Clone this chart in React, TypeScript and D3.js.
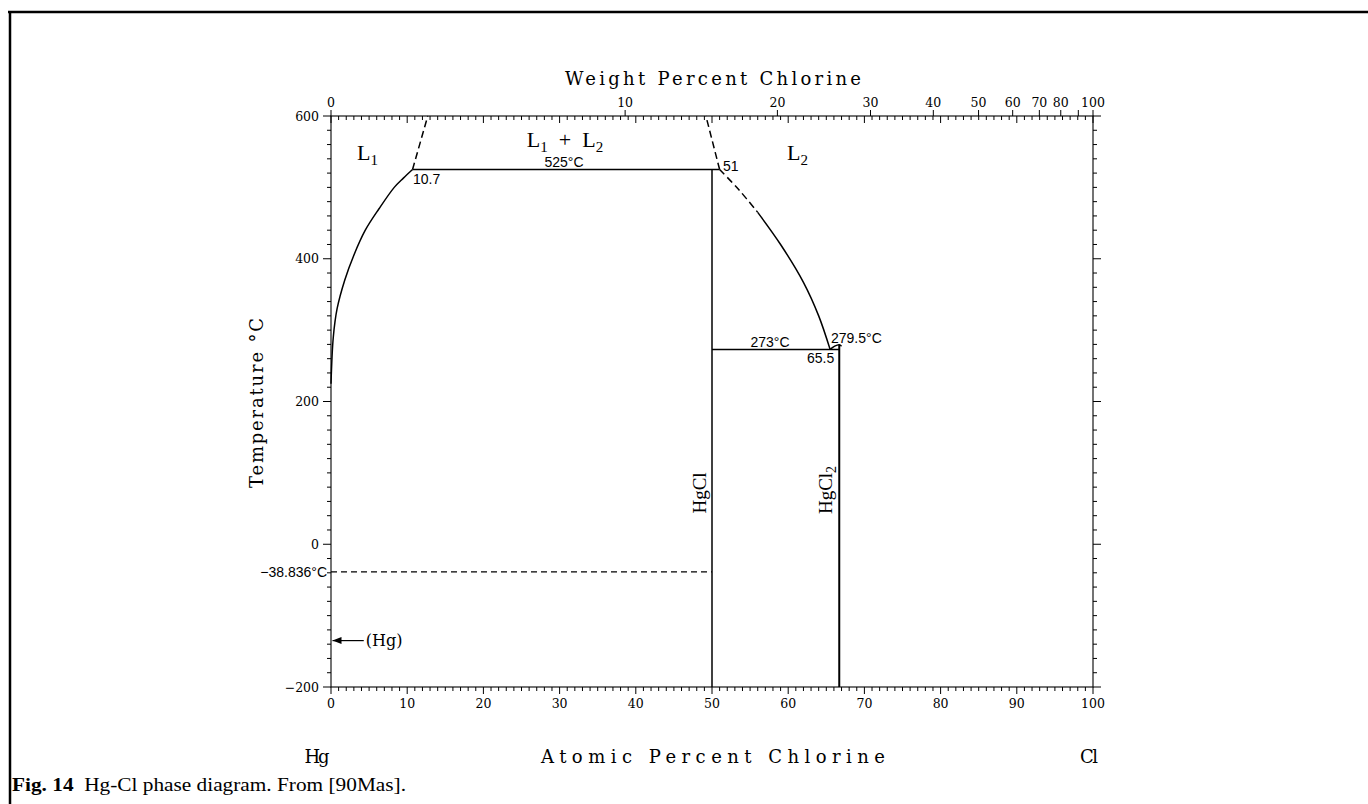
import React from 'react';
import * as d3 from 'd3';

// ---- data ----
const atMajorTicks: number[] = [0, 10, 20, 30, 40, 50, 60, 70, 80, 90, 100];
const atMinorTicks: number[] = d3.range(0, 101, 1);
const tempMajorTicks: number[] = [-200, 0, 200, 400, 600];
const tempMinorTicks: number[] = d3.range(-200, 601, 20);
const wtTicks: number[] = [0, 10, 20, 30, 40, 50, 60, 70, 80, 90, 100];
const wtTickLabels: string[] = ['0', '10', '20', '30', '40', '50', '60', '70', '80', '', '100'];

// phase boundaries [at% Cl, T °C]
const liquidusL1: [number, number][] = [
  [0, 225], [0.3, 290], [0.8, 330], [1.8, 370], [3, 405], [4.5, 440], [6.3, 470], [8.3, 500], [9.5, 513], [10.7, 525],
];
const domeLeftDashed: [number, number][] = [[10.7, 525], [12.7, 600]];
const domeRightDashed: [number, number][] = [[51, 525], [49.2, 600]];
const liquidusL2Dashed: [number, number][] = [[51, 525], [53.5, 497], [56, 465]];
const liquidusL2: [number, number][] = [[56, 465], [59, 420], [62, 367], [64, 320], [65.5, 273]];
const hgcl2Peak: [number, number][] = [[65.5, 273], [66.1, 277.5], [66.7, 279.5], [67.0, 277.5]];
const monotectic: [number, number][] = [[10.7, 525], [51, 525]];
const eutectic: [number, number][] = [[50, 273], [66.7, 273]];
const hgclLine: [number, number][] = [[50, 525], [50, -200]];
const hgcl2Line: [number, number][] = [[66.7, 279.5], [66.7, -200]];
const hgMeltLine: [number, number][] = [[0, -38.836], [50, -38.836]];
const hgArrow: [number, number][] = [[0.2, -135], [4.3, -135]];

const W = 1368;
const H = 804;

const wtToAt = (w: number): number => {
  if (w <= 0) return 0;
  if (w >= 100) return 100;
  const nCl = w / 35.453;
  const nHg = (100 - w) / 200.59;
  return (nCl / (nCl + nHg)) * 100;
};

export default function App() {
  const x = d3.scaleLinear().domain([0, 100]).range([331, 1093]);
  const y = d3.scaleLinear().domain([-200, 600]).range([687, 116]);
  const line = d3.line<[number, number]>().x((d) => x(d[0])).y((d) => y(d[1]));
  const curve = d3.line<[number, number]>().x((d) => x(d[0])).y((d) => y(d[1])).curve(d3.curveCatmullRom);

  const serif = '"DejaVu Serif", serif';
  const times = '"Liberation Serif", serif';
  const sans = '"Liberation Sans", Arial, sans-serif';
  const x0 = x(0), x1 = x(100), yT = y(600), yB = y(-200);

  return (
    <svg width={W} height={H} style={{ position: 'absolute', left: 0, top: 0, background: '#fff' }}>
      <rect x={0} y={0} width={W} height={H} fill="#fff" />
      {/* page frame */}
      <line x1={8} y1={12} x2={W} y2={12} stroke="#000" strokeWidth={2.5} />
      <line x1={10} y1={11} x2={10} y2={H} stroke="#000" strokeWidth={2.5} />

      {/* plot box */}
      <rect x={x0} y={yT} width={x1 - x0} height={yB - yT} fill="none" stroke="#000" strokeWidth={1.1} />

      {/* bottom axis ticks */}
      {atMinorTicks.map((t) => (
        <line key={'bm' + t} x1={x(t)} x2={x(t)} y1={yB} y2={yB + (t % 10 === 0 ? 7 : 4)} stroke="#000" strokeWidth={1} />
      ))}
      {atMajorTicks.map((t) => (
        <text key={'bl' + t} x={x(t)} y={708} textAnchor="middle" fontFamily={serif} fontSize={12.5}>{t}</text>
      ))}
      {/* top axis: atomic ticks inward */}
      {atMinorTicks.map((t) => (
        <line key={'tm' + t} x1={x(t)} x2={x(t)} y1={yT} y2={yT + (t % 10 === 0 ? 7 : 4)} stroke="#000" strokeWidth={1} />
      ))}
      {/* top axis: weight ticks outward */}
      {wtTicks.map((w, i) => (
        <g key={'wt' + w}>
          <line x1={x(wtToAt(w))} x2={x(wtToAt(w))} y1={yT} y2={yT - 6} stroke="#000" strokeWidth={1} />
          <text x={x(wtToAt(w))} y={107} textAnchor="middle" fontFamily={serif} fontSize={12.5}>{wtTickLabels[i]}</text>
        </g>
      ))}
      {/* left / right temperature ticks outward */}
      {tempMinorTicks.map((t) => (
        <g key={'tt' + t}>
          <line x1={x0} x2={x0 - (t % 200 === 0 ? 8 : 4)} y1={y(t)} y2={y(t)} stroke="#000" strokeWidth={1} />
          <line x1={x1} x2={x1 + (t % 200 === 0 ? 8 : 4)} y1={y(t)} y2={y(t)} stroke="#000" strokeWidth={1} />
        </g>
      ))}
      {tempMajorTicks.map((t) => (
        <text key={'yl' + t} x={319} y={y(t) + 4.5} textAnchor="end" fontFamily={serif} fontSize={12.5}>{t === -200 ? '\u2212200' : t}</text>
      ))}

      {/* axis titles */}
      <text x={713} y={85} textAnchor="middle" fontFamily={serif} fontSize={18} textLength={296} lengthAdjust="spacing">Weight Percent Chlorine</text>
      <text x={713} y={763} textAnchor="middle" fontFamily={serif} fontSize={18} textLength={344} lengthAdjust="spacing">Atomic Percent Chlorine</text>
      <text x={317} y={763} textAnchor="middle" fontFamily={serif} fontSize={18} textLength={25} lengthAdjust="spacing">Hg</text>
      <text x={1089} y={763} textAnchor="middle" fontFamily={serif} fontSize={18} textLength={18} lengthAdjust="spacing">Cl</text>
      <text transform="translate(263,403) rotate(-90)" textAnchor="middle" fontFamily={serif} fontSize={18} textLength={170} lengthAdjust="spacing">Temperature °C</text>

      {/* phase boundaries */}
      <g fill="none" stroke="#000" strokeWidth={1.5}>
        <path d={curve(liquidusL1) || ''} />
        <path d={line(domeLeftDashed) || ''} strokeDasharray="7,4" />
        <path d={line(domeRightDashed) || ''} strokeDasharray="7,4" />
        <path d={curve(liquidusL2Dashed) || ''} strokeDasharray="7,4" />
        <path d={curve(liquidusL2) || ''} />
        <path d={curve(hgcl2Peak) || ''} />
        <path d={line(monotectic) || ''} />
        <path d={line(eutectic) || ''} />
        <path d={line(hgclLine) || ''} />
        <path d={line(hgcl2Line) || ''} strokeWidth={2} />
        <path d={line(hgMeltLine) || ''} strokeDasharray="6,4" strokeWidth={1.3} />
        <path d={line(hgArrow) || ''} strokeWidth={1.2} />
      </g>
      <path d={`M${x(hgArrow[0][0])},${y(hgArrow[0][1])} l9,-3.5 l0,7 z`} fill="#000" />
      <text x={x(hgArrow[1][0]) + 2} y={y(hgArrow[1][1]) + 5.5} fontFamily={serif} fontSize={16}>(Hg)</text>

      {/* labels */}
      <text x={357} y={160} fontFamily={times} fontSize={22}>L<tspan fontSize={15} dy={5}>1</tspan></text>
      <text x={565} y={147} textAnchor="middle" fontFamily={times} fontSize={22}>L<tspan fontSize={15} dy={5}>1</tspan><tspan dy={-5}>{'\u2002+\u2002L'}</tspan><tspan fontSize={15} dy={5}>2</tspan></text>
      <text x={787} y={160} fontFamily={times} fontSize={22}>L<tspan fontSize={15} dy={5}>2</tspan></text>
      <text x={564} y={167} textAnchor="middle" fontFamily={sans} fontSize={14}>525°C</text>
      <text x={413} y={184} fontFamily={sans} fontSize={14}>10.7</text>
      <text x={723} y={171} fontFamily={sans} fontSize={14}>51</text>
      <text x={770} y={347} textAnchor="middle" fontFamily={sans} fontSize={14}>273°C</text>
      <text x={831} y={343} fontFamily={sans} fontSize={14}>279.5°C</text>
      <text x={807} y={363} fontFamily={sans} fontSize={14}>65.5</text>
      <text x={327} y={577} textAnchor="end" fontFamily={sans} fontSize={14}>{'\u221238.836°C'}</text>
      <text transform="translate(706,493) rotate(-90)" textAnchor="middle" fontFamily={times} fontSize={19}>HgCl</text>
      <text transform="translate(832,490) rotate(-90)" textAnchor="middle" fontFamily={times} fontSize={19}>HgCl<tspan fontSize={14} dy={4}>2</tspan></text>

      {/* caption */}
      <text x={12} y={791} fontFamily={times} fontSize={19} textLength={394} lengthAdjust="spacingAndGlyphs">
        <tspan fontWeight="bold">Fig. 14</tspan>
        <tspan>{'\u2002Hg-Cl phase diagram. From [90Mas].'}</tspan>
      </text>
    </svg>
  );
}
